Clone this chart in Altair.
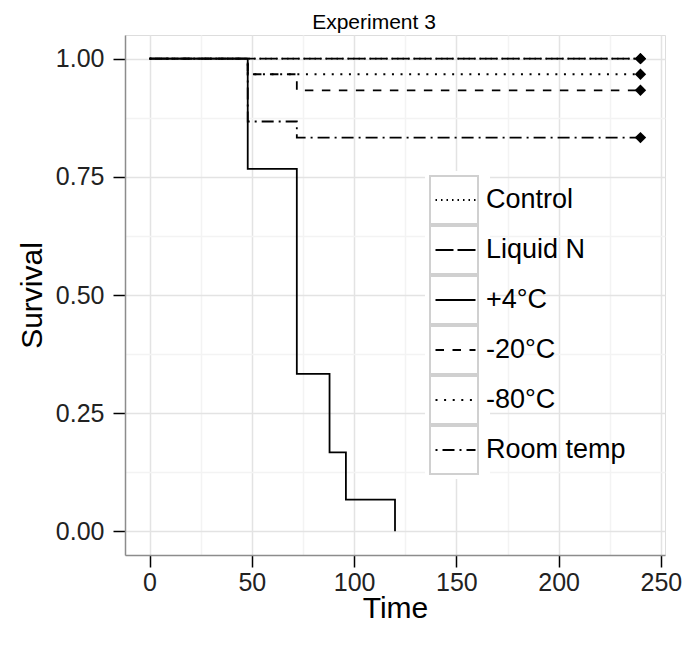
import altair as alt
import pandas as pd

FONT = "Liberation Sans"

series = ["Control", "Liquid N", "+4°C", "-20°C", "-80°C", "Room temp"]
box_keys = ["k1", "k2", "k3", "k4", "k5", "k6"]

control_t = [0, 240]
control_s = [1.0, 1.0]
liqn_t = [0, 240]
liqn_s = [1.0, 1.0]
plus4_t = [0, 48, 72, 88, 96, 120]
plus4_s = [1.0, 0.767, 0.333, 0.167, 0.067, 0.0]
m20_t = [0, 48, 72, 240]
m20_s = [1.0, 0.967, 0.933, 0.933]
m80_t = [0, 48, 240]
m80_s = [1.0, 0.967, 0.967]
room_t = [0, 48, 72, 240]
room_s = [1.0, 0.867, 0.833, 0.833]

censor_series = ["Control", "Liquid N", "-20°C", "-80°C", "Room temp"]
censor_t = [240, 240, 240, 240, 240]
censor_s = [1.0, 1.0, 0.933, 0.967, 0.833]

dashes = [[1.5, 4], [18, 4], [1, 0], [8.5, 8.5], [2, 6.6], [2, 5, 12, 5]]

x_major = [0, 50, 100, 150, 200, 250]
x_minor = [25, 75, 125, 175, 225]
y_major = [0.0, 0.25, 0.5, 0.75, 1.0]
y_minor = [0.125, 0.375, 0.625, 0.875]

rows = []
for name, ts, ss in zip(series,
                        [control_t, liqn_t, plus4_t, m20_t, m80_t, room_t],
                        [control_s, liqn_s, plus4_s, m20_s, m80_s, room_s]):
    for t, s in zip(ts, ss):
        rows.append({"series": name, "time": t, "surv": s})
lines_df = pd.DataFrame(rows)
cens_df = pd.DataFrame({"series": censor_series, "time": censor_t, "surv": censor_s})
box_df = pd.DataFrame({"key": box_keys})

x_axis = alt.Axis(
    values=sorted(x_major + x_minor),
    labelExpr="datum.value % 50 === 0 ? datum.label : ''",
    gridColor={"condition": {"test": "datum.value % 50 === 0", "value": "#e3e3e3"}, "value": "#f3f3f3"},
    gridWidth=1.5,
    tickOpacity={"condition": {"test": "datum.value % 50 === 0", "value": 1}, "value": 0},
    tickColor="black", tickWidth=1.5, tickSize=12,
    domainColor="#8c8c8c", domainWidth=1.5,
    labelFont=FONT, labelFontSize=25, labelColor="#222222", labelPadding=3,
    title="Time", titleFont=FONT, titleFontSize=30, titleFontWeight="normal",
    titleColor="black", titlePadding=-2,
)
y_test = "abs(datum.value * 4 - round(datum.value * 4)) < 0.001"
y_axis = alt.Axis(
    values=sorted(y_major + y_minor),
    labelExpr=f"{y_test} ? format(datum.value, '.2f') : ''",
    gridColor={"condition": {"test": y_test, "value": "#e3e3e3"}, "value": "#f3f3f3"},
    gridWidth=1.5,
    tickOpacity={"condition": {"test": y_test, "value": 1}, "value": 0},
    tickColor="black", tickWidth=1.5, tickSize=12,
    domainColor="#8c8c8c", domainWidth=1.5,
    labelFont=FONT, labelFontSize=25, labelColor="#222222", labelPadding=9,
    title="Survival", titleFont=FONT, titleFontSize=30, titleFontWeight="normal",
    titleColor="black", titlePadding=8,
)

x_enc = alt.X("time:Q", scale=alt.Scale(domain=[-12, 252], nice=False, zero=False), axis=x_axis)
y_enc = alt.Y("surv:Q", scale=alt.Scale(domain=[-0.05, 1.05], nice=False, zero=False), axis=y_axis)

# key boxes with a white background behind the line legend
boxes = alt.Chart(box_df).transform_filter("false").mark_point(
    filled=False, color="#d0d0d0", strokeWidth=2
).encode(
    shape=alt.Shape(
        "key:N",
        scale=alt.Scale(domain=box_keys, range=["square"] * 6),
        legend=alt.Legend(
            orient="none", legendX=300, legendY=136, title=None,
            symbolSize=2304, symbolStrokeColor="#d0d0d0", symbolFillColor="white",
            symbolStrokeWidth=2, symbolOpacity=1, clipHeight=50, rowPadding=0, padding=4,
            fillColor="white", labelFont=FONT, labelFontSize=40, labelOpacity=0,
            labelExpr="'" + "\u00a0" * 14 + "'", labelLimit=400, labelOffset=7,
        ),
    )
)

lines = alt.Chart(lines_df).mark_line(
    interpolate="step-after", color="black", strokeWidth=1.8
).encode(
    x=x_enc,
    y=y_enc,
    strokeDash=alt.StrokeDash(
        "series:N",
        scale=alt.Scale(domain=series, range=dashes),
        sort=series,
        legend=alt.Legend(
            orient="none", legendX=309.5, legendY=140, title=None,
            symbolType="stroke", symbolSize=1600, symbolStrokeWidth=1.8,
            symbolStrokeColor="black", clipHeight=50, rowPadding=0, padding=0,
            labelFont=FONT, labelFontSize=27, labelColor="black", labelOffset=9.5,
            labelLimit=300,
        ),
    ),
)

cens = alt.Chart(cens_df).mark_point(
    shape="diamond", filled=True, color="black", size=130, opacity=1
).encode(x="time:Q", y="surv:Q")

chart = alt.layer(boxes, lines, cens).properties(
    width=540, height=520,
    title=alt.TitleParams("Experiment 3", font=FONT, fontSize=21, fontWeight="normal",
                          color="black", anchor="middle", dx=-21, offset=2),
    autosize=alt.AutoSizeParams(type="none"),
    padding={"left": 117, "top": 27, "right": 27, "bottom": 83},
).configure_view(stroke=None).configure(background="white")

chart.save("out.html", embed_options={"renderer": "svg", "actions": False})
